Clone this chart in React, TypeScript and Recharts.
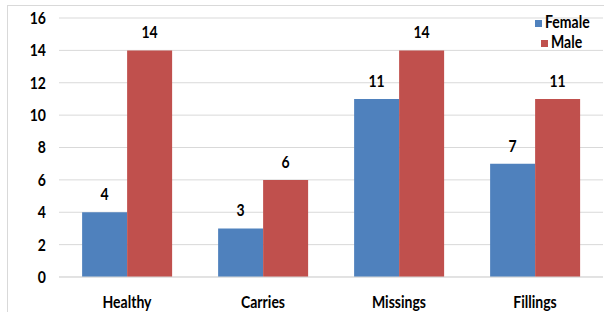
import React from 'react';
import { BarChart, Bar, XAxis, YAxis, CartesianGrid, Legend, LabelList } from 'recharts';

const categories = ['Healthy', 'Carries', 'Missings', 'Fillings'];
const female = [4, 3, 11, 7];
const male = [14, 6, 14, 11];
const yTicks = [0, 2, 4, 6, 8, 10, 12, 14, 16];

const data = categories.map((name, i) => ({ name, Female: female[i], Male: male[i] }));

const FONT = 'Lato, "Open Sans", Arial, sans-serif';
const SIZE = 16.5;
const SQUEEZE = 0.85;

// narrow bold text, a bit like Calibri Bold
const Narrow = ({ x, y, anchor, dy, children }: any) => (
    <g transform={`translate(${x},${y})`}>
        <text
            transform={`scale(${SQUEEZE},1)`}
            textAnchor={anchor}
            dy={dy}
            fill="#000"
            fontSize={SIZE}
            fontWeight={700}
            fontFamily={FONT}
        >
            {children}
        </text>
    </g>
);

const XTick = ({ x, y, payload }: any) => (
    <Narrow x={x} y={y} anchor="middle" dy="0.71em">{payload.value}</Narrow>
);

const YTick = ({ x, y, payload }: any) => (
    <Narrow x={x} y={y} anchor="end" dy="0.36em">{payload.value}</Narrow>
);

const BarValue = ({ x, y, width, value }: any) => (
    <Narrow x={x + width / 2} y={y - 12} anchor="middle">{value}</Narrow>
);

export default function App() {
    return (
        <div style={{ position: 'absolute', left: 0, top: 0, width: 604, height: 312, background: '#fff', overflow: 'hidden' }}>
            <div
                style={{
                    position: 'absolute', left: 7, top: 5, width: 597, height: 307,
                    borderLeft: '1px solid #d9d9d9', borderTop: '1px solid #d9d9d9'
                }}
            />
            <BarChart
                width={604}
                height={312}
                data={data}
                margin={{ top: 18, right: 1, bottom: 5, left: 0 }}
                barGap={0}
                barCategoryGap="17%"
                style={{ position: 'absolute', left: 0, top: 0 }}
            >
                <CartesianGrid vertical={false} stroke="#d9d9d9" />
                <XAxis
                    dataKey="name"
                    height={30}
                    axisLine={{ stroke: '#d9d9d9' }}
                    tickLine={false}
                    tickSize={0}
                    tickMargin={19}
                    tick={<XTick />}
                />
                <YAxis
                    width={59}
                    domain={[0, 16]}
                    ticks={yTicks}
                    axisLine={false}
                    tickLine={false}
                    tickSize={0}
                    tickMargin={13}
                    tick={<YTick />}
                />
                <Legend
                    layout="horizontal"
                    align="center"
                    verticalAlign="middle"
                    iconType="square"
                    iconSize={7}
                    wrapperStyle={{
                        top: 12, left: 535, width: 68, textAlign: 'left',
                        fontFamily: FONT, fontSize: SIZE, fontWeight: 700, lineHeight: '20px'
                    }}
                    formatter={(v: string) => (
                        <span style={{ color: '#000', display: 'inline-block', transform: `scaleX(${SQUEEZE})`, transformOrigin: 'left center', marginLeft: -1 }}>{v}</span>
                    )}
                />
                <Bar dataKey="Female" fill="#4F81BD" isAnimationActive={false}>
                    <LabelList dataKey="Female" content={<BarValue />} />
                </Bar>
                <Bar dataKey="Male" fill="#C0504D" isAnimationActive={false}>
                    <LabelList dataKey="Male" content={<BarValue />} />
                </Bar>
            </BarChart>
        </div>
    );
}
